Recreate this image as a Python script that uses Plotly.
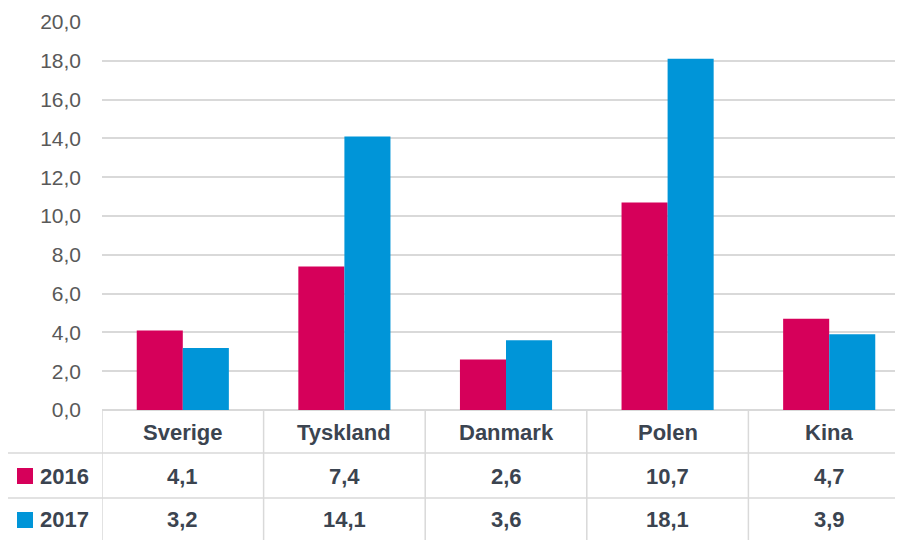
import plotly.graph_objects as go

categories = ["Sverige", "Tyskland", "Danmark", "Polen", "Kina"]
series_names = ["2016", "2017"]
values_2016 = [4.1, 7.4, 2.6, 10.7, 4.7]
values_2017 = [3.2, 14.1, 3.6, 18.1, 3.9]
y_ticks = [0, 2, 4, 6, 8, 10, 12, 14, 16, 18, 20]

colors = ["#D6005A", "#0095D8"]
series_values = [values_2016, values_2017]

W, H = 903, 540
OFF = 8  # page body margin offset
# layout in reference (screen) pixels
PL, PR, PT, PB = 102, 910, 22, 410
L = PL - OFF
T = PT - OFF
R = W - (PR - OFF)
B = H - (PB - OFF)
pw, ph = W - L - R, H - T - B

def px_x(p):  # screen pixel x -> paper x
    return (p - OFF - L) / pw

def px_y(p):  # screen pixel y -> paper y
    return (H - B - (p - OFF)) / ph

fig = go.Figure()
for name, vals, col in zip(series_names, series_values, colors):
    fig.add_trace(go.Bar(x=categories, y=vals, name=name, marker_color=col,
                         marker_line_width=0, hoverinfo="skip"))

grid = "#D9D9D9"
txt = "#3B4450"
font_fam = "Liberation Sans, Arial, sans-serif"

shapes = []
for yp in [453, 498]:
    shapes.append(dict(type="line", xref="paper", yref="paper", x0=px_x(0), x1=1,
                       y0=px_y(yp), y1=px_y(yp), line=dict(color=grid, width=1.5)))
for i in range(len(categories) + 1):
    shapes.append(dict(type="line", xref="x", yref="paper", x0=i - 0.5, x1=i - 0.5,
                       y0=0, y1=px_y(550), line=dict(color=grid, width=1.5)))
for name, col, yc in zip(series_names, colors, [476, 520]):
    shapes.append(dict(type="rect", xref="paper", yref="paper", x0=px_x(17), x1=px_x(33),
                       y0=px_y(yc - 8), y1=px_y(yc + 8), fillcolor=col, line_width=0))

annotations = []
tfont = dict(size=22, color=txt, family=font_fam, weight="bold")
for i, c in enumerate(categories):
    annotations.append(dict(x=c, xref="x", y=px_y(432), yref="paper", text=c, showarrow=False,
                            font=tfont, xanchor="center", yanchor="middle"))
    for vals, yc in zip(series_values, [476, 520]):
        annotations.append(dict(x=c, xref="x", y=px_y(yc), yref="paper",
                                text=f"{vals[i]:.1f}".replace(".", ","), showarrow=False,
                                font=tfont, xanchor="center", yanchor="middle"))
for name, yc in zip(series_names, [476, 520]):
    annotations.append(dict(x=px_x(38), xref="paper", y=px_y(yc), yref="paper", text=name,
                            showarrow=False, xanchor="left", yanchor="middle", font=tfont))

fig.update_layout(
    width=W, height=H,
    margin=dict(l=L, r=R, t=T, b=B),
    paper_bgcolor="white", plot_bgcolor="white",
    barmode="group", bargap=0.43, bargroupgap=0,
    showlegend=False,
    separators=", ",
    font=dict(family=font_fam, color="#595959"),
    shapes=shapes, annotations=annotations,
    xaxis=dict(showticklabels=False, showgrid=False, showline=False, zeroline=False,
               ticks="", range=[-0.5, len(categories) - 0.5]),
    yaxis=dict(range=[0, 20], tickvals=y_ticks, tickformat=".1f", showgrid=True,
               gridcolor=grid, gridwidth=1.5, zeroline=True, zerolinecolor=grid,
               zerolinewidth=1.5, ticks="", ticklabelstandoff=20,
               tickfont=dict(size=21, color="#595959", family=font_fam)),
)

fig.write_html("out.html")
